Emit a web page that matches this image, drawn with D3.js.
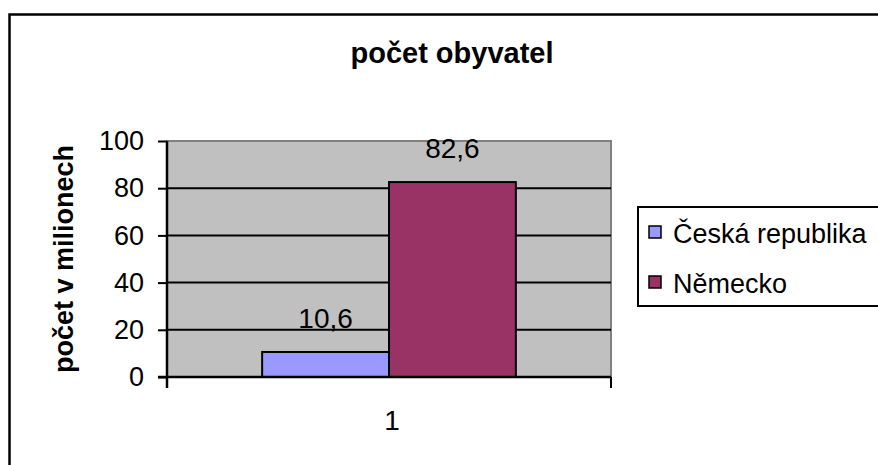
<!DOCTYPE html>
<html>
<head>
<meta charset="utf-8">
<script src="https://cdn.jsdelivr.net/npm/d3@7"></script>
<style>
  body { margin: 0; background: #fff; }
  svg { font-family: "Liberation Sans", Arial, sans-serif; }
</style>
</head>
<body>
<div id="chart"></div>
<script>
// data
const categories = ["1"];
const seriesNames = ["Česká republika", "Německo"];
const seriesValues = [10.6, 82.6];
const seriesColors = ["#9999FF", "#993366"];
const yTicks = [0, 20, 40, 60, 80, 100];

const W = 878, H = 465;
const plot = {left: 167, right: 611, top: 141, bottom: 377};

const svg = d3.select("#chart")
  .append("svg")
    .attr("width", W)
    .attr("height", H);

// outer chart border (right and bottom run off the picture)
svg.append("rect")
  .attr("x", 9.5).attr("y", 14.5)
  .attr("width", 1000).attr("height", 600)
  .attr("fill", "#fff")
  .attr("stroke", "#000")
  .attr("stroke-width", 2.5);

// title
svg.append("text")
  .attr("x", 452).attr("y", 63)
  .attr("text-anchor", "middle")
  .style("font-size", "29px")
  .style("font-weight", "bold")
  .text("počet obyvatel");

// scales
const x0 = d3.scaleBand()
  .domain(categories)
  .range([plot.left, plot.right]);

const x1 = d3.scaleBand()
  .domain(seriesNames)
  .range([0, x0.bandwidth()])
  .paddingInner(0)
  .paddingOuter(0.75);

const y = d3.scaleLinear()
  .domain([0, 100])
  .range([plot.bottom, plot.top]);

// plot background
svg.append("rect")
  .attr("x", plot.left).attr("y", plot.top)
  .attr("width", plot.right - plot.left)
  .attr("height", plot.bottom - plot.top)
  .attr("fill", "#C0C0C0")
  .attr("stroke", "#808080")
  .attr("stroke-width", 2);

// gridlines
svg.append("g")
  .selectAll("line")
  .data(yTicks.filter(d => d > 0 && d < 100))
  .join("line")
    .attr("x1", plot.left).attr("x2", plot.right)
    .attr("y1", d => y(d)).attr("y2", d => y(d))
    .attr("stroke", "#000")
    .attr("stroke-width", 2);

// bars
svg.append("g")
  .selectAll("rect")
  .data(seriesNames.map((s, i) => ({name: s, value: seriesValues[i], color: seriesColors[i]})))
  .join("rect")
    .attr("x", d => x0(categories[0]) + x1(d.name))
    .attr("y", d => y(d.value))
    .attr("width", x1.bandwidth())
    .attr("height", d => y(0) - y(d.value))
    .attr("fill", d => d.color)
    .attr("stroke", "#000")
    .attr("stroke-width", 2);

// value labels
svg.append("g")
  .selectAll("text")
  .data(seriesNames.map((s, i) => ({name: s, value: seriesValues[i]})))
  .join("text")
    .attr("x", d => x0(categories[0]) + x1(d.name) + x1.bandwidth() / 2)
    .attr("y", d => y(d.value) - 24)
    .attr("text-anchor", "middle")
    .style("font-size", "28px")
    .text(d => String(d.value).replace(".", ","));

// y axis
const yAxis = svg.append("g")
  .attr("transform", `translate(${plot.left},0)`)
  .call(d3.axisLeft(y).tickValues(yTicks).tickSize(9).tickPadding(14).tickSizeOuter(0));
yAxis.select(".domain").remove();
yAxis.selectAll(".tick line").attr("stroke", "#000").attr("stroke-width", 2);
yAxis.selectAll(".tick text")
  .style("font-size", "27px")
  .style("font-family", "'Liberation Sans', Arial, sans-serif")
  .attr("fill", "#000");
svg.append("line")
  .attr("x1", plot.left).attr("x2", plot.left)
  .attr("y1", plot.top).attr("y2", plot.bottom + 11)
  .attr("stroke", "#000").attr("stroke-width", 2.5);

// x axis
svg.append("line")
  .attr("x1", plot.left - 9).attr("x2", plot.right)
  .attr("y1", plot.bottom).attr("y2", plot.bottom)
  .attr("stroke", "#000").attr("stroke-width", 2.5);
svg.append("line")
  .attr("x1", plot.right).attr("x2", plot.right)
  .attr("y1", plot.bottom).attr("y2", plot.bottom + 11)
  .attr("stroke", "#000").attr("stroke-width", 2);
svg.append("g")
  .selectAll("text")
  .data(categories)
  .join("text")
    .attr("x", d => x0(d) + x0.bandwidth() / 2 + 3)
    .attr("y", plot.bottom + 53)
    .attr("text-anchor", "middle")
    .style("font-size", "28px")
    .text(d => d);

// y axis title
svg.append("text")
  .attr("transform", `translate(73,${(plot.top + plot.bottom) / 2}) rotate(-90)`)
  .attr("text-anchor", "middle")
  .style("font-size", "27px")
  .style("font-weight", "bold")
  .text("počet v milionech");

// legend
const legend = svg.append("g");
legend.append("rect")
  .attr("x", 638).attr("y", 207)
  .attr("width", 400).attr("height", 99)
  .attr("fill", "#fff")
  .attr("stroke", "#000")
  .attr("stroke-width", 2);
const items = legend.selectAll("g.item")
  .data(seriesNames)
  .join("g")
    .attr("class", "item")
    .attr("transform", (d, i) => `translate(649,${232 + i * 50})`);
items.append("rect")
  .attr("x", 0).attr("y", -6)
  .attr("width", 12).attr("height", 12)
  .attr("fill", (d, i) => seriesColors[i])
  .attr("stroke", "#000")
  .attr("stroke-width", 1.5);
items.append("text")
  .attr("x", 24).attr("y", 11)
  .style("font-size", "27px")
  .text(d => d);
</script>
</body>
</html>
